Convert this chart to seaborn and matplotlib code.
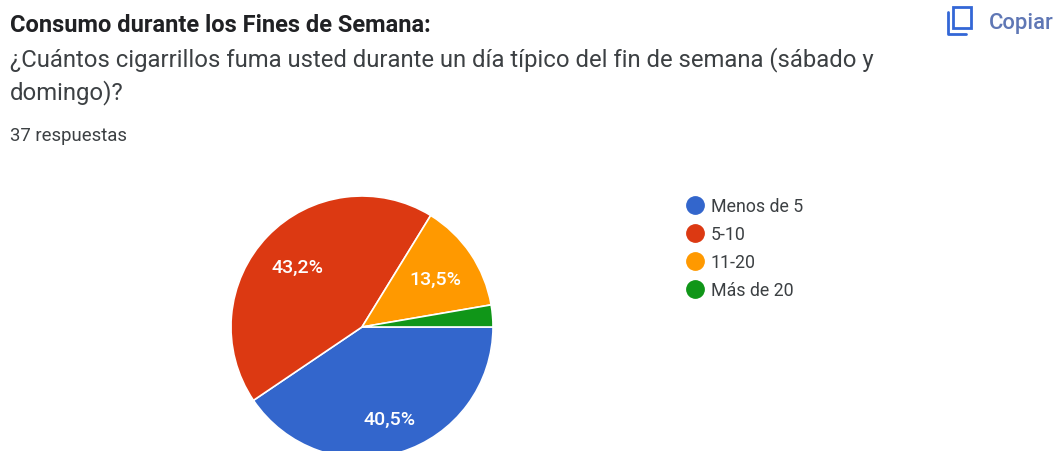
import matplotlib
matplotlib.use("Agg")
import matplotlib.pyplot as plt
from matplotlib.lines import Line2D
from matplotlib.patches import Rectangle
import seaborn as sns

# datos de la encuesta
categorias = ["Menos de 5", "5-10", "11-20", "Más de 20"]
respuestas = [15, 16, 5, 1]
etiquetas = ["40,5%", "43,2%", "13,5%", ""]
colores = ["#3366cc", "#dc3912", "#ff9900", "#109618"]

titulo = "Consumo durante los Fines de Semana:"
pregunta = "¿Cuántos cigarrillos fuma usted durante un día típico del fin de semana (sábado y\ndomingo)?"
total = "37 respuestas"

sns.set_theme(style="white")
plt.rcParams["font.family"] = ["Roboto", "DejaVu Sans"]

W, H = 1057, 452
fig = plt.figure(figsize=(W / 100, H / 100), dpi=100, facecolor="white")

# pie, se corta por abajo como en la captura
ax = fig.add_axes([231 / W, (452 - 459) / H, 262 / W, 262 / H])
wedges, _ = ax.pie(respuestas, colors=sns.color_palette(colores), startangle=0, counterclock=False,
                   radius=1, wedgeprops={"edgecolor": "white", "linewidth": 1.2})
ax.set_xlim(-1, 1)
ax.set_ylim(-1, 1)

# etiquetas dentro de cada porcion
pos_etiquetas = [(0.21, -0.70), (-0.49, 0.46), (0.56, 0.37)]
for txt, (x, y) in zip(etiquetas, pos_etiquetas):
    ax.text(x, y, txt, color="white", fontsize=14, fontweight="medium", ha="center", va="center")

# textos de cabecera
fig.text(10 / W, 1 - 25 / H, titulo, fontsize=17, fontweight="bold", color="#202124", va="center")
fig.text(10 / W, 1 - 76 / H, pregunta, fontsize=17.2, color="#3c4043", va="center", linespacing=1.42)
fig.text(10 / W, 1 - 136 / H, total, fontsize=13.3, color="#3c4043", va="center")

# leyenda
handles = [Line2D([], [], marker="o", linestyle="", markersize=12.5, color=c) for c in colores]
fig.legend(handles, categorias, loc="upper left", bbox_to_anchor=(661 / W, 1 - 182 / H), frameon=False,
           fontsize=12.8, labelcolor="#3c4043", labelspacing=0.56, handletextpad=-0.1)

# boton copiar
azul = "#3367d6"
fig.add_artist(Rectangle((953 / W, 1 - 29 / H), 18 / W, 21 / H, fill=False, edgecolor=azul, linewidth=2,
                         transform=fig.transFigure))
fig.add_artist(Line2D([948 / W, 948 / W, 966 / W], [1 - 13 / H, 1 - 35 / H, 1 - 35 / H], color=azul, linewidth=2,
                      transform=fig.transFigure))
fig.text(989 / W, 1 - 23 / H, "Copiar", fontsize=15.8, fontweight="medium", color="#5f77b5", va="center")

fig.savefig("out.png", dpi=100)
